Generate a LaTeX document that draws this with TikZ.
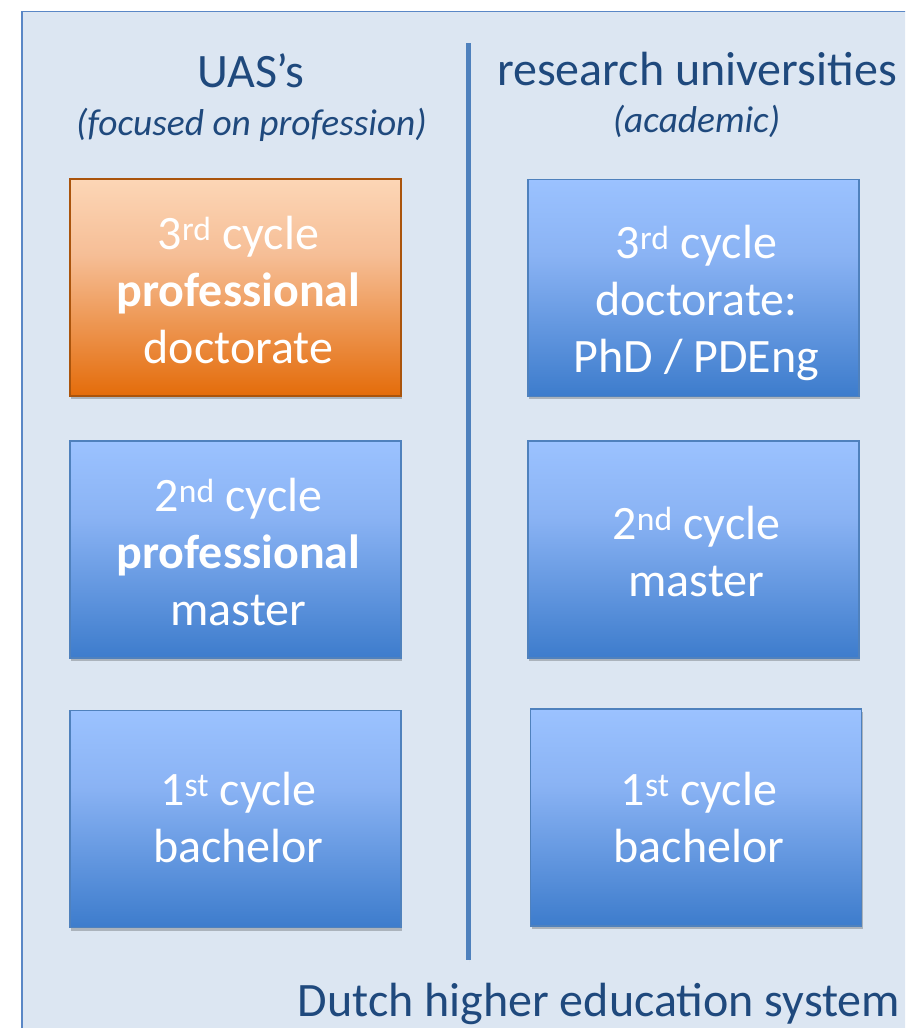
\documentclass[tikz,border=0pt]{standalone}
\usepackage{fontspec}
\setmainfont{Carlito}
\usetikzlibrary{shadows}
\definecolor{bgfill}{RGB}{220,230,242}
\definecolor{bgline}{RGB}{90,135,198}
\definecolor{titletext}{RGB}{31,73,125}
\definecolor{btop}{RGB}{155,194,255}
\definecolor{bmid}{RGB}{138,179,244}
\definecolor{bbot}{RGB}{61,124,204}
\definecolor{bline}{RGB}{79,129,189}
\definecolor{otop}{RGB}{252,214,182}
\definecolor{omid}{RGB}{246,190,150}
\definecolor{obot}{RGB}{228,108,10}
\definecolor{oline}{RGB}{170,84,12}
\pgfdeclareverticalshading{blueshade}{100bp}{color(0bp)=(bbot); color(25bp)=(bbot); color(57.5bp)=(bmid); color(75bp)=(btop); color(100bp)=(btop)}
\pgfdeclareverticalshading{orangeshade}{100bp}{color(0bp)=(obot); color(25bp)=(obot); color(57.5bp)=(omid); color(75bp)=(otop); color(100bp)=(otop)}
\tikzset{
  boxtext/.style={inner sep=0pt, align=center, text=white, font=\fontsize{48}{57}\selectfont},
  cyclebox/.style={rectangle, draw=bline, line width=1.3pt, minimum width=331pt, minimum height=217pt,
    boxtext, shade, shading=blueshade,
    drop shadow={shadow xshift=1.5pt, shadow yshift=-3pt, opacity=0.22, fill=black}},
  profbox/.style={cyclebox, draw=oline, shading=orangeshade},
  headtext/.style={text=titletext, inner sep=0pt, font=\fontsize{48}{57}\selectfont},
  subtext/.style={text=titletext, inner sep=0pt, font=\itshape\fontsize{37.4}{44}\selectfont},
  divider/.style={draw=bline, line width=5pt},
  panel/.style={draw=bgline, line width=1.8pt, fill=bgfill}
}
\begin{document}
\begin{tikzpicture}[x=1pt,y=-1pt]
\useasboundingbox (0,0) rectangle (905,1028);
\clip (0,0) rectangle (905,1028);
\fill[white] (0,0) rectangle (905,1028);
\draw[panel] (22,11.5) rectangle (1000,1100);

\node[headtext, anchor=base] (uas) at (251,87) {UAS’s};
\node[subtext, anchor=base] (uassub) at (251.5,135) {(focused on profession)};
\node[headtext, anchor=base] (res) at (697,85) {research universities};
\node[subtext, anchor=base] (ressub) at (696.5,132) {(academic)};

\coordinate (dtop) at (468,43);
\coordinate (dbot) at (468,960);
\draw[divider, drop shadow={shadow xshift=1pt, shadow yshift=-2pt, opacity=0.15, fill=black}] (dtop) -- (dbot);

\node[profbox] (l3) at (235.4,287.5) {};
\node[boxtext] (l3t) at ([xshift=3pt,yshift=-3pt]l3.center) {3\textsuperscript{rd} cycle\\\textbf{professional}\\doctorate};
\node[cyclebox] (l2) at (235.4,549.4) {};
\node[boxtext] (l2t) at ([xshift=3pt,yshift=-3pt]l2.center) {2\textsuperscript{nd} cycle\\\textbf{professional}\\master};
\node[cyclebox] (l1) at (235.4,819) {};
\node[boxtext] (l1t) at ([xshift=3pt,yshift=1pt]l1.center) {1\textsuperscript{st} cycle\\bachelor};

\node[cyclebox] (r3) at (693.4,287.7) {};
\node[boxtext] (r3t) at ([xshift=3pt,yshift=-15pt]r3.center) {3\textsuperscript{rd} cycle\\doctorate:\\PhD / PDEng};
\node[cyclebox] (r2) at (693.4,549.4) {};
\node[boxtext] (r2t) at ([xshift=3pt,yshift=-2pt]r2.center) {2\textsuperscript{nd} cycle\\master};
\node[cyclebox] (r1) at (695.9,817.4) {};
\node[boxtext] (r1t) at ([xshift=3pt,yshift=0pt]r1.center) {1\textsuperscript{st} cycle\\bachelor};

\node[headtext, anchor=base] (dutch) at (599,1016) {Dutch higher education system};
\end{tikzpicture}
\end{document}
